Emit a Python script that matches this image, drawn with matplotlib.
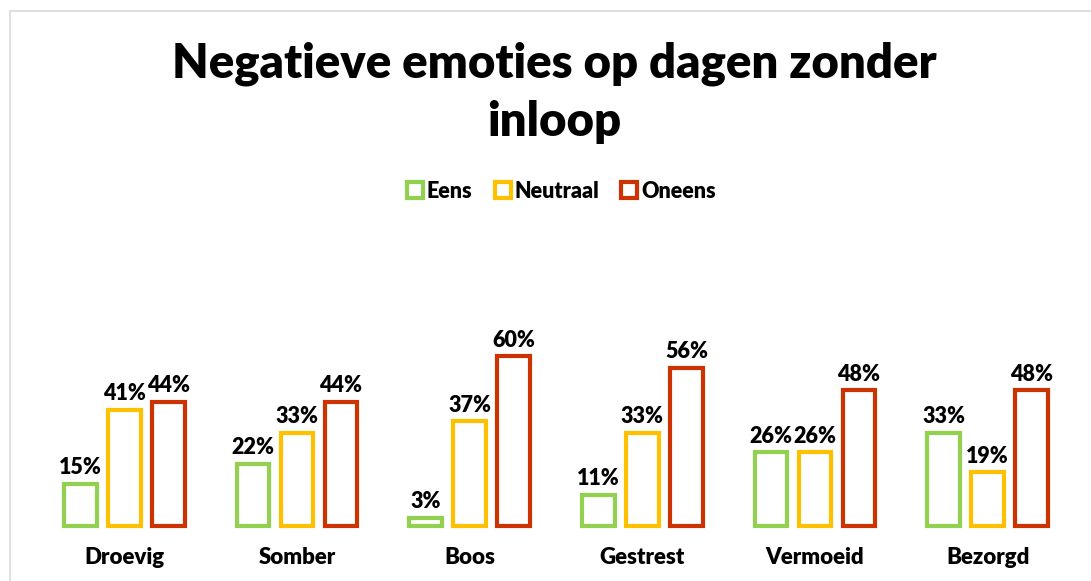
import matplotlib
matplotlib.use("Agg")
import matplotlib.pyplot as plt
import numpy as np
from matplotlib.patches import Rectangle
from matplotlib.lines import Line2D

categories = ["Droevig", "Somber", "Boos", "Gestrest", "Vermoeid", "Bezorgd"]
series_names = ["Eens", "Neutraal", "Oneens"]
eens = [0.15, 0.22, 0.03, 0.11, 0.26, 0.33]
neutraal = [0.41, 0.33, 0.37, 0.33, 0.26, 0.19]
oneens = [0.44, 0.44, 0.60, 0.56, 0.48, 0.48]
colors = ["#92D050", "#FFC000", "#CC3300"]
title = "Negatieve emoties op dagen zonder\ninloop"

plt.rcParams['font.family'] = ['Lato', 'DejaVu Sans']

W, H = 1091, 581
fig = plt.figure(figsize=(W / 100, H / 100), dpi=100)
fig.patch.set_facecolor("white")

# light border
fig.add_artist(Rectangle((10 / W, -0.1), 2, 1 - 11 / H + 0.1, transform=fig.transFigure,
                         fill=False, edgecolor="#D9D9D9", lw=1.2))

ax_left, ax_right = 38 / W, 1074 / W
ax_bottom = 1 - 526 / H
ax_top = 1 - 328 / H
ax = fig.add_axes([ax_left, ax_bottom, ax_right - ax_left, ax_top - ax_bottom])
ax.set_xlim(-0.5, len(categories) - 0.5)
ax.set_ylim(0, 0.70)
for s in ax.spines.values():
    s.set_visible(False)
ax.set_yticks([])
ax.set_xticks(range(len(categories)))
ax.set_xticklabels(categories, fontsize=16, fontweight="heavy")
ax.tick_params(axis="x", length=0, pad=15)

x = np.arange(len(categories))
offset = 0.255
width = 0.19
for i, (vals, c) in enumerate(zip([eens, neutraal, oneens], colors)):
    pos = x + (i - 1) * offset
    ax.bar(pos, vals, width=width, facecolor="white", edgecolor=c,
           linewidth=3.0, clip_on=False, zorder=3)
    for p, v in zip(pos, vals):
        ax.annotate(f"{round(v * 100)}%", (p, v), xytext=(0, 4), textcoords="offset points",
                    ha="center", va="bottom", fontsize=15.5, fontweight="heavy",
                    annotation_clip=False)

fig.text(0.508, 1 - 93 / H, title, ha="center", va="center", fontsize=34,
         fontweight="heavy", linespacing=1.4)

handles = [Line2D([], [], marker="s", linestyle="none", markersize=12,
                  markerfacecolor="white", markeredgecolor=c, markeredgewidth=3)
           for c in colors]
fig.legend(handles, series_names, loc="center", bbox_to_anchor=(560 / W, 1 - 191 / H),
           ncol=3, frameon=False, prop={"weight": "heavy", "size": 15.5},
           handletextpad=0.05, columnspacing=0.9, handlelength=1.0)

fig.savefig("out.png", dpi=100, facecolor="white")
